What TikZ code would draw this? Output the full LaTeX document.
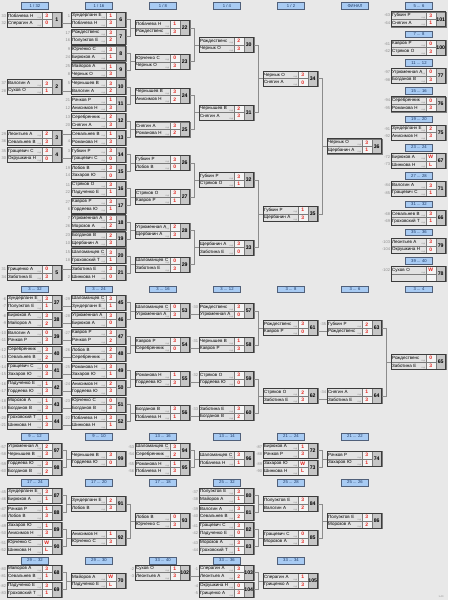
\documentclass[tikz,border=0pt]{standalone}
\usepackage{fontspec}
\setmainfont{Liberation Sans}
\definecolor{bgcol}{HTML}{E8E8E8}
\definecolor{namefill}{HTML}{E2E2E2}
\definecolor{scorefill}{HTML}{F4F4F4}
\definecolor{numfill}{HTML}{C6C6C6}
\definecolor{frameline}{HTML}{3C3C3C}
\definecolor{cellline}{HTML}{7A7A7A}
\definecolor{conncol}{HTML}{8C8C8C}
\definecolor{hdrfill}{HTML}{A8CBF3}
\definecolor{hdrline}{HTML}{50607A}
\definecolor{hdrtxt}{HTML}{1E3A66}
\definecolor{scoretxt}{HTML}{E5261F}
\definecolor{seedtxt}{HTML}{8A8A8A}
\tikzset{
 cellbase/.style={draw=cellline, line width=0.35pt, inner sep=0pt, outer sep=0pt, minimum height=7.5pt},
 namecell/.style={cellbase, fill=namefill, text width=32.6pt, inner xsep=0.9pt, align=left, font=\fontsize{4.5}{5}\selectfont},
 scorecell/.style={cellbase, fill=scorefill, minimum width=10pt, font=\bfseries\fontsize{5}{5}\selectfont, text=scoretxt},
 numcell/.style={cellbase, fill=numfill, minimum width=10pt, minimum height=15pt, font=\bfseries\fontsize{5.2}{5.5}\selectfont},
 framebox/.style={draw=frameline, line width=0.8pt},
 seedlbl/.style={inner sep=0pt, font=\fontsize{4}{4}\selectfont, text=seedtxt, anchor=east},
 ratelbl/.style={inner sep=0.3pt, font=\fontsize{2.2}{2.2}\selectfont, text=seedtxt, anchor=south east},
 hdr/.style={draw=hdrline, line width=0.6pt, fill=hdrfill, minimum width=26.7pt, minimum height=6.6pt, inner sep=0pt, font=\fontsize{4.2}{4.2}\selectfont, text=hdrtxt},
 conn/.style={draw=conncol, line width=0.7pt},
 stamp/.style={inner sep=0pt, font=\fontsize{2.5}{2.5}\selectfont, text=seedtxt},
}
\newcommand\rtxt{вхд}
\newcommand\mt[9]{%
 \pgfmathsetmacro\mtx{7.3+64*#1}%
 \node[namecell, anchor=south west] (m#3a) at (\mtx,#2) {#5};
 \node[namecell, anchor=north west] (m#3b) at (\mtx,#2) {#8};
 \node[scorecell, anchor=south west] (m#3c) at (m#3a.south east) {#6};
 \node[scorecell, anchor=north west] (m#3d) at (m#3b.north east) {#9};
 \node[numcell, anchor=west] (m#3) at (m#3c.south east) {#3};
 \draw[framebox] (m#3a.north west) rectangle (m#3.south east);
 \node[seedlbl] (m#3s) at ([xshift=-1pt]m#3a.west) {#4};
 \node[seedlbl] (m#3t) at ([xshift=-1pt]m#3b.west) {#7};
 \node[ratelbl] (m#3r) at (m#3a.south east) {\rtxt};
 \def\mtempty{#8}\ifx\mtempty\empty\else\node[ratelbl] (m#3q) at (m#3b.south east) {\rtxt};\fi
}
\newcommand\hd[4]{\node[hdr] (#1) at ({35+64*#2},#3) {#4};}
\newcommand\br[3]{\draw[conn] (m#1.east) -- ++(4.8,0) |- (m#2.east); \draw[conn] (m#3a.south west) -- ++(-4.8,0);}
\newcommand\fa[2]{\draw[conn] (m#1.east |- m#2a.west) -- (m#2a.west);}
\newcommand\fb[2]{\draw[conn] (m#1.east |- m#2b.west) -- (m#2b.west);}
\begin{document}
\begin{tikzpicture}[x=1pt,y=-1pt]
\path[use as bounding box, fill=bgcol] (0,0) rectangle (448,600);
% ===== headers, main bracket
\hd{h1}{0}{6}{1 / 32}
\hd{h2}{1}{6}{1 / 16}
\hd{h3}{2}{6}{1 / 8}
\hd{h4}{3}{6}{1 / 4}
\hd{h5}{4}{6}{1 / 2}
\hd{h6}{5}{6}{ФИНАЛ}
% ===== 1/32
\mt{0}{19.5}{1}{33}{Побачева Н}{3}{32}{Сперагин А}{0}
\mt{0}{87.1}{2}{37}{Валогин А}{3}{28}{Сухов О}{1}
\mt{0}{137.8}{3}{29}{Леонтьев А}{2}{36}{Севальнев В}{3}
\mt{0}{154.7}{4}{35}{Гращевич С}{3}{30}{Окрушкина Н}{0}
\mt{0}{273.0}{5}{31}{Грищенко А}{0}{34}{Заботина Е}{3}
% ===== 1/16
\mt{1}{19.5}{6}{1}{Зундерланн Е}{1}{}{Побачева Н}{3}
\mt{1}{36.4}{7}{17}{Рождественс}{3}{16}{Полуэктов Е}{2}
\mt{1}{53.3}{8}{9}{Юрченко С}{3}{24}{Бирюков А}{1}
\mt{1}{70.2}{9}{25}{Майоров А}{1}{8}{Чернык О}{3}
\mt{1}{87.1}{10}{5}{Чернышев В}{3}{}{Валогин А}{2}
\mt{1}{104.0}{11}{21}{Рачков Р}{1}{12}{Анисимов Н}{3}
\mt{1}{120.9}{12}{13}{Серебренник}{2}{20}{Снягин А}{3}
\mt{1}{137.8}{13}{}{Севальнев В}{1}{4}{Романова Н}{3}
\mt{1}{154.7}{14}{3}{Губкин Р}{3}{}{Гращевич С}{0}
\mt{1}{171.6}{15}{19}{Лобов В}{3}{14}{Захаров Ю}{0}
\mt{1}{188.5}{16}{11}{Стряков О}{3}{22}{Падученко Е}{1}
\mt{1}{205.4}{17}{27}{Кавров Р}{3}{6}{Гордеева Ю}{1}
\mt{1}{222.3}{18}{7}{Угрюменная А}{3}{26}{Морозов А}{2}
\mt{1}{239.2}{19}{23}{Богданов В}{2}{10}{Щербанин А}{3}
\mt{1}{256.1}{20}{15}{Шаломанцев С}{3}{18}{Гроховский Т}{1}
\mt{1}{273.0}{21}{}{Заботина Е}{3}{2}{Шинкова Н}{0}
% ===== 1/8
\mt{2}{27.95}{22}{}{Побачева Н}{1}{}{Рождественс}{3}
\mt{2}{61.75}{23}{}{Юрченко С}{0}{}{Чернык О}{3}
\mt{2}{95.55}{24}{}{Чернышев В}{3}{}{Анисимов Н}{2}
\mt{2}{129.35}{25}{}{Снягин А}{3}{}{Романова Н}{2}
\mt{2}{163.15}{26}{}{Губкин Р}{3}{}{Лобов В}{0}
\mt{2}{196.95}{27}{}{Стряков О}{3}{}{Кавров Р}{1}
\mt{2}{230.75}{28}{}{Угрюменная А}{2}{}{Щербанин А}{3}
\mt{2}{264.55}{29}{}{Шаломанцев С}{0}{}{Заботина Е}{3}
% ===== 1/4
\mt{3}{44.85}{30}{}{Рождественс}{2}{}{Чернык О}{3}
\mt{3}{112.45}{31}{}{Чернышев В}{2}{}{Снягин А}{3}
\mt{3}{180.05}{32}{}{Губкин Р}{3}{}{Стряков О}{1}
\mt{3}{247.65}{33}{}{Щербанин А}{3}{}{Заботина Е}{0}
% ===== 1/2 and final
\mt{4}{78.65}{34}{}{Чернык О}{3}{}{Снягин А}{0}
\mt{4}{213.85}{35}{}{Губкин Р}{1}{}{Щербанин А}{3}
\mt{5}{146.25}{36}{}{Чернык О}{3}{}{Щербанин А}{1}
% connectors main
\fb{1}{6} \fb{2}{10} \fa{3}{13} \fb{4}{14} \fa{5}{21}
\br{6}{7}{22} \br{8}{9}{23} \br{10}{11}{24} \br{12}{13}{25}
\br{14}{15}{26} \br{16}{17}{27} \br{18}{19}{28} \br{20}{21}{29}
\br{22}{23}{30} \br{24}{25}{31} \br{26}{27}{32} \br{28}{29}{33}
\br{30}{31}{34} \br{32}{33}{35} \br{34}{35}{36}
% ===== right column placements
\hd{h7}{6}{6}{5 ... 6}
\mt{6}{19.3}{101}{-63}{Губкин Р}{3}{-64}{Снягин А}{1}
\hd{h8}{6}{34.3}{7 ... 8}
\mt{6}{47.6}{100}{-61}{Кавров Р}{0}{-62}{Стряков О}{3}
\hd{h9}{6}{62.6}{11 ... 12}
\mt{6}{75.9}{77}{-97}{Угрюменная А}{0}{-98}{Богданов В}{3}
\hd{h10}{6}{90.9}{15 ... 16}
\mt{6}{104.2}{76}{-94}{Серебренник}{0}{-95}{Романова Н}{3}
\hd{h11}{6}{119.2}{19 ... 20}
\mt{6}{132.5}{75}{-91}{Зундерланн Е}{2}{-92}{Анисимов Н}{3}
\hd{h12}{6}{147.5}{23 ... 24}
\mt{6}{160.8}{67}{-72}{Бирюков А}{W}{-73}{Шинкова Н}{L}
\hd{h13}{6}{175.8}{27 ... 28}
\mt{6}{189.1}{71}{-84}{Валогин А}{3}{-85}{Гращевич С}{1}
\hd{h14}{6}{204.1}{31 ... 32}
\mt{6}{217.4}{66}{-68}{Севальнев В}{3}{-69}{Гроховский Т}{1}
\hd{h15}{6}{232.4}{35 ... 36}
\mt{6}{245.7}{79}{-103}{Леонтьев А}{3}{-104}{Окрушкина Н}{0}
\hd{h16}{6}{260.7}{39 ... 40}
\mt{6}{274.0}{78}{-102}{Сухов О}{W}{}{}{}
% ===== section 2 : 3 ... 32
\hd{h17}{0}{289.3}{3 ... 32}
\hd{h18}{1}{289.3}{3 ... 24}
\hd{h19}{2}{289.3}{3 ... 16}
\hd{h20}{3}{289.3}{3 ... 12}
\hd{h21}{4}{289.3}{3 ... 8}
\hd{h22}{5}{289.3}{3 ... 6}
\hd{h23}{6}{289.3}{3 ... 4}
\mt{0}{302.5}{37}{-6}{Зундерланн Е}{3}{-7}{Полуэктов Е}{1}
\mt{0}{319.5}{38}{-8}{Бирюков А}{3}{-9}{Майоров А}{2}
\mt{0}{336.5}{39}{-10}{Валогин А}{0}{-11}{Рачков Р}{3}
\mt{0}{353.5}{40}{-12}{Серебренник}{3}{-13}{Севальнев В}{2}
\mt{0}{370.5}{41}{-14}{Гращевич С}{0}{-15}{Захаров Ю}{3}
\mt{0}{387.5}{42}{-16}{Падученко Е}{1}{-17}{Гордеева Ю}{3}
\mt{0}{404.5}{43}{-18}{Морозов А}{1}{-19}{Богданов В}{3}
\mt{0}{421.5}{44}{-20}{Гроховский Т}{1}{-21}{Шинкова Н}{3}
\mt{1}{302.5}{45}{-29}{Шаломанцев С}{3}{}{Зундерланн Е}{1}
\mt{1}{319.5}{46}{-28}{Угрюменная А}{3}{}{Бирюков А}{0}
\mt{1}{336.5}{47}{-27}{Кавров Р}{3}{}{Рачков Р}{2}
\mt{1}{353.5}{48}{-26}{Лобов В}{2}{}{Серебренник}{3}
\mt{1}{370.5}{49}{-25}{Романова Н}{3}{}{Захаров Ю}{1}
\mt{1}{387.5}{50}{-24}{Анисимов Н}{2}{}{Гордеева Ю}{3}
\mt{1}{404.5}{51}{-23}{Юрченко С}{0}{}{Богданов В}{3}
\mt{1}{421.5}{52}{-22}{Побачева Н}{3}{}{Шинкова Н}{1}
\mt{2}{311}{53}{}{Шаломанцев С}{0}{}{Угрюменная А}{3}
\mt{2}{345}{54}{}{Кавров Р}{3}{}{Серебренник}{0}
\mt{2}{379}{55}{}{Романова Н}{1}{}{Гордеева Ю}{3}
\mt{2}{413}{56}{}{Богданов В}{3}{}{Побачева Н}{1}
\mt{3}{311}{57}{-30}{Рождественс}{3}{}{Угрюменная А}{0}
\mt{3}{345}{58}{-31}{Чернышев В}{1}{}{Кавров Р}{3}
\mt{3}{379}{59}{-32}{Стряков О}{3}{}{Гордеева Ю}{0}
\mt{3}{413}{60}{-33}{Заботина Е}{3}{}{Богданов В}{2}
\mt{4}{328}{61}{}{Рождественс}{3}{}{Кавров Р}{0}
\mt{4}{396}{62}{}{Стряков О}{2}{}{Заботина Е}{3}
\mt{5}{328}{63}{-35}{Губкин Р}{2}{}{Рождественс}{3}
\mt{5}{396}{64}{-34}{Снягин А}{1}{}{Заботина Е}{3}
\mt{6}{362}{65}{}{Рождественс}{0}{}{Заботина Е}{3}
\fb{37}{45} \fb{38}{46} \fb{39}{47} \fb{40}{48}
\fb{41}{49} \fb{42}{50} \fb{43}{51} \fb{44}{52}
\br{45}{46}{53} \br{47}{48}{54} \br{49}{50}{55} \br{51}{52}{56}
\fb{53}{57} \fb{54}{58} \fb{55}{59} \fb{56}{60}
\br{57}{58}{61} \br{59}{60}{62}
\fb{61}{63} \fb{62}{64}
\br{63}{64}{65}
% ===== section 3 : 9 ... 12 etc.
\hd{h24}{0}{436.5}{9 ... 12}
\hd{h25}{1}{436.5}{9 ... 10}
\hd{h26}{2}{436.5}{13 ... 16}
\hd{h27}{3}{436.5}{13 ... 14}
\hd{h28}{4}{436.5}{21 ... 24}
\hd{h29}{5}{436.5}{21 ... 22}
\mt{0}{450.5}{97}{-57}{Угрюменная А}{2}{-58}{Чернышев В}{3}
\mt{0}{467.5}{98}{-59}{Гордеева Ю}{3}{-60}{Богданов В}{2}
\mt{1}{459}{99}{}{Чернышев В}{3}{}{Гордеева Ю}{0}
\mt{2}{450.5}{94}{-53}{Шаломанцев С}{3}{-54}{Серебренник}{2}
\mt{2}{467.5}{95}{-55}{Романова Н}{1}{-56}{Побачева Н}{3}
\mt{3}{459}{96}{}{Шаломанцев С}{3}{}{Побачева Н}{1}
\mt{4}{450.5}{72}{-87}{Бирюков А}{1}{-88}{Рачков Р}{3}
\mt{4}{467.5}{73}{-89}{Захаров Ю}{W}{-90}{Шинкова Н}{L}
\mt{5}{459}{74}{}{Рачков Р}{3}{}{Захаров Ю}{1}
\br{97}{98}{99} \br{94}{95}{96} \br{72}{73}{74}
% ===== 17 ... 24 and 25 ... 32
\hd{h30}{0}{482.5}{17 ... 24}
\hd{h31}{1}{482.5}{17 ... 20}
\hd{h32}{2}{482.5}{17 ... 18}
\hd{h33}{3}{482.5}{25 ... 32}
\hd{h34}{4}{482.5}{25 ... 28}
\hd{h35}{5}{482.5}{25 ... 26}
\mt{0}{495.5}{87}{-45}{Зундерланн Е}{3}{-46}{Бирюков А}{1}
\mt{0}{512.5}{88}{-47}{Рачков Р}{1}{-48}{Лобов В}{3}
\mt{0}{529.5}{89}{-49}{Захаров Ю}{1}{-50}{Анисимов Н}{3}
\mt{0}{546.5}{90}{-51}{Юрченко С}{W}{-52}{Шинкова Н}{L}
\mt{1}{504}{91}{}{Зундерланн Е}{2}{}{Лобов В}{3}
\mt{1}{538}{92}{}{Анисимов Н}{1}{}{Юрченко С}{3}
\mt{2}{521}{93}{}{Лобов В}{0}{}{Юрченко С}{3}
\mt{3}{495.5}{80}{-37}{Полуэктов Е}{3}{-38}{Майоров А}{1}
\mt{3}{512.5}{81}{-39}{Валогин А}{3}{-40}{Севальнев В}{2}
\mt{3}{529.5}{82}{-41}{Гращевич С}{3}{-42}{Падученко Е}{0}
\mt{3}{546.5}{83}{-43}{Морозов А}{3}{-44}{Гроховский Т}{1}
\mt{4}{504}{84}{}{Полуэктов Е}{3}{}{Валогин А}{2}
\mt{4}{538}{85}{}{Гращевич С}{0}{}{Морозов А}{3}
\mt{5}{521}{86}{}{Полуэктов Е}{3}{}{Морозов А}{2}
\br{87}{88}{91} \br{89}{90}{92} \br{91}{92}{93}
\br{80}{81}{84} \br{82}{83}{85} \br{84}{85}{86}
% ===== section 4 : 29 ... 32, 33 ... 40
\hd{h36}{0}{560.5}{29 ... 32}
\hd{h37}{1}{560.5}{29 ... 30}
\hd{h38}{2}{560.5}{33 ... 40}
\hd{h39}{3}{560.5}{33 ... 36}
\hd{h40}{4}{560.5}{33 ... 34}
\mt{0}{572.5}{68}{-80}{Майоров А}{3}{-81}{Севальнев В}{1}
\mt{0}{589.5}{69}{-82}{Падученко Е}{3}{-83}{Гроховский Т}{1}
\mt{1}{581}{70}{}{Майоров А}{W}{}{Падученко Е}{L}
\mt{2}{572.5}{102}{-2}{Сухов О}{1}{-3}{Леонтьев А}{3}
\mt{3}{572.5}{103}{-1}{Сперагин А}{3}{}{Леонтьев А}{2}
\mt{3}{589.5}{104}{-4}{Окрушкина Н}{0}{-5}{Грищенко А}{3}
\mt{4}{581}{105}{}{Сперагин А}{1}{}{Грищенко А}{3}
\br{68}{69}{70} \fb{102}{103} \br{103}{104}{105}
\node[stamp] (stamp) at (441,597) {1.40};
\end{tikzpicture}
\end{document}
